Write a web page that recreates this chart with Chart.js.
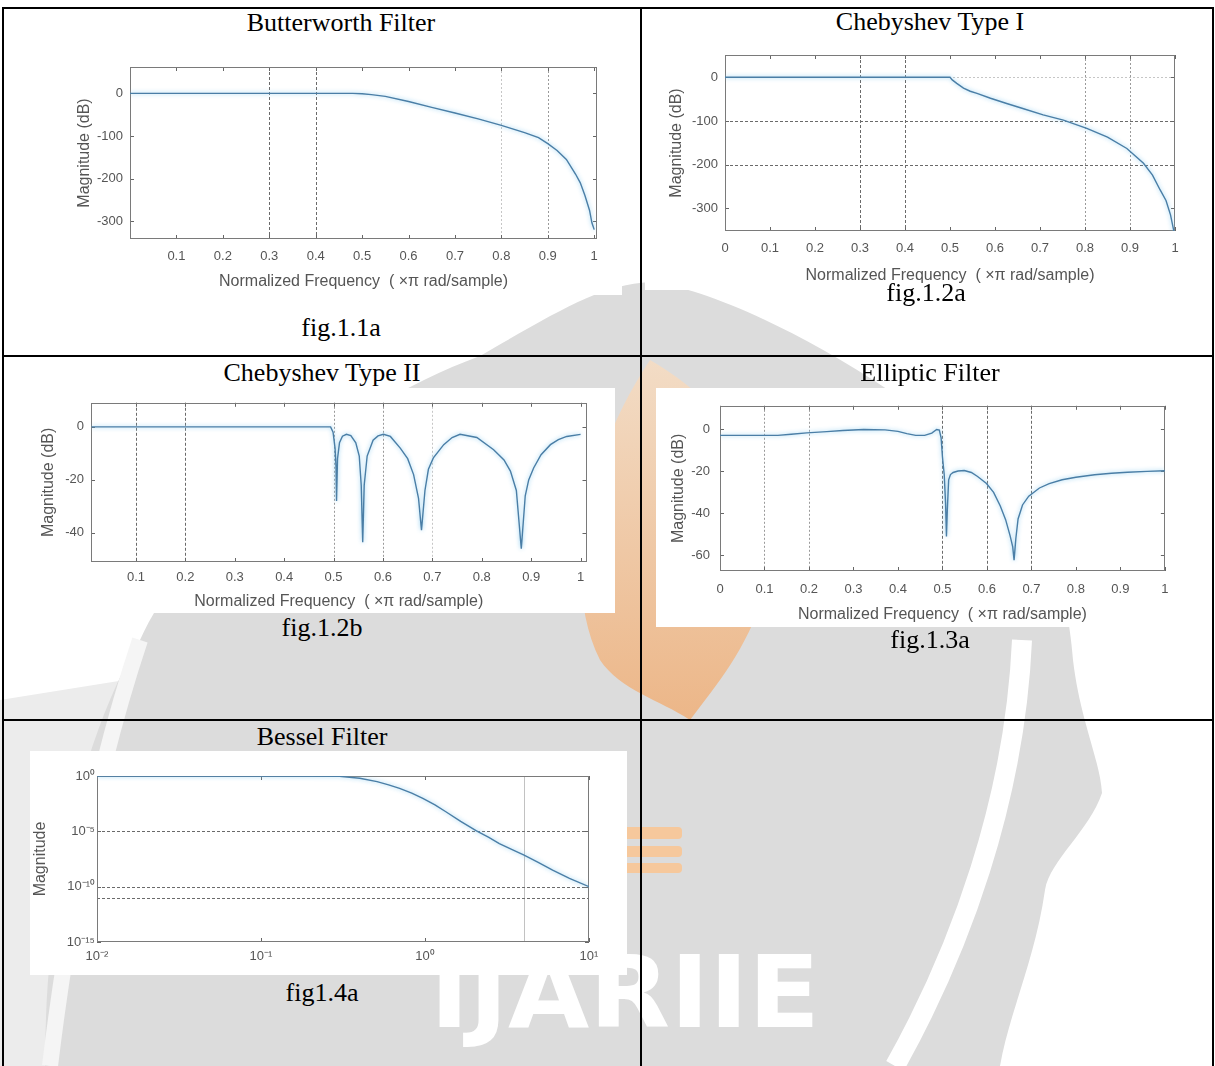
<!DOCTYPE html>
<html>
<head>
<meta charset="utf-8">
<script src="https://cdn.jsdelivr.net/npm/chart.js@4"></script>
<style>
html, body { margin: 0; padding: 0; background: #fff; }
body { width: 1215px; height: 1066px; position: relative; overflow: hidden; font-family: 'Liberation Serif', 'Times New Roman', serif; }
#mark { position: absolute; left: 0; top: 0; }
.rule { position: absolute; background: #000; }
.cap { position: absolute; font-size: 26px; line-height: 26px; white-space: nowrap; transform: translateX(-50%); color: #000; }
.fig { position: absolute; background: #fff; }
.fig canvas { display: block; }
</style>
</head>
<body>

<svg id="mark" width="1215" height="1066" viewBox="0 0 1215 1066">
  <defs>
    <linearGradient id="flame" x1="0" y1="0" x2="0" y2="1">
      <stop offset="0" stop-color="#fcdcbc"/>
      <stop offset="1" stop-color="#f3a664"/>
    </linearGradient>
  </defs>
  <path d="M0 700 L125 680 C90 800 65 920 50 1066 L0 1066 Z" fill="#ececec"/>
  <path d="M650 282 C730 290 900 380 1030 500 C1060 560 1070 620 1073 660 C1080 720 1100 760 1102 793 C1090 830 1050 860 1045 890 C1035 960 1010 1010 1000 1066 L45 1066 C45 900 80 740 140 640 C200 510 360 400 480 356 C560 310 600 285 650 282 Z" fill="#dcdcdc"/>
  <path d="M1022 640 C1015 800 960 950 895 1066" stroke="#fff" stroke-width="20" fill="none"/>
  <path d="M140 640 C100 760 70 900 50 1066" stroke="#f5f5f5" stroke-width="16" fill="none"/>
  <path d="M650 360 C720 400 790 480 770 570 C755 640 720 680 690 720 C660 700 620 690 600 660 C570 600 580 520 600 460 C615 420 630 390 650 360 Z" fill="url(#flame)" opacity="0.7"/>
  <rect x="600" y="827" width="82" height="12" rx="4" fill="#f6c89c"/>
  <rect x="600" y="846" width="82" height="11" rx="4" fill="#f6c89c"/>
  <rect x="600" y="863" width="82" height="10" rx="4" fill="#f6c89c"/>
  <text x="430" y="1027" font-family="DejaVu Sans" font-weight="bold" font-size="100" fill="#fff" textLength="390" lengthAdjust="spacingAndGlyphs">IJARIIE</text>
</svg>

<div class="rule" style="left:2px;top:7px;width:1212px;height:2px"></div>
<div class="rule" style="left:2px;top:7px;width:2px;height:1059px"></div>
<div class="rule" style="left:1212px;top:7px;width:2px;height:1059px"></div>
<div class="rule" style="left:640px;top:7px;width:2px;height:1059px"></div>
<div class="rule" style="left:2px;top:355px;width:1212px;height:2px"></div>
<div class="rule" style="left:2px;top:719px;width:1212px;height:2px"></div>

<div class="fig" style="left:5px;top:40px;width:617px;height:255px"><canvas id="butter" width="617" height="255"></canvas></div>
<div class="fig" style="left:645px;top:40px;width:566px;height:250px"><canvas id="cheby1" width="566" height="250"></canvas></div>
<div class="fig" style="left:5px;top:388px;width:610px;height:225px"><canvas id="cheby2" width="610" height="225"></canvas></div>
<div class="fig" style="left:656px;top:388px;width:523px;height:239px"><canvas id="ellip" width="523" height="239"></canvas></div>
<div class="fig" style="left:30px;top:751px;width:597px;height:224px"><canvas id="bessel" width="597" height="224"></canvas></div>

<div class="cap" style="left:341px;top:10px">Butterworth Filter</div>
<div class="cap" style="left:930px;top:9px">Chebyshev Type I</div>
<div class="cap" style="left:341px;top:315px">fig.1.1a</div>
<div class="cap" style="left:926px;top:280px">fig.1.2a</div>
<div class="cap" style="left:322px;top:360px">Chebyshev Type II</div>
<div class="cap" style="left:930px;top:360px">Elliptic Filter</div>
<div class="cap" style="left:322px;top:615px">fig.1.2b</div>
<div class="cap" style="left:930px;top:627px">fig.1.3a</div>
<div class="cap" style="left:322px;top:724px">Bessel Filter</div>
<div class="cap" style="left:322px;top:980px">fig1.4a</div>

<script>
// values (normalized frequency vs magnitude)
const butterFreq = [0, 0.1, 0.2, 0.3, 0.4, 0.45, 0.48, 0.5, 0.52, 0.55, 0.6, 0.65, 0.7, 0.75, 0.8, 0.85, 0.88, 0.9, 0.92, 0.94, 0.96, 0.97, 0.98, 0.99, 0.995, 1.0];
const butterMag = [0, 0, 0, 0, 0, 0, 0, -1, -3, -7, -19, -33, -46, -60, -75, -92, -104, -118, -134, -155, -190, -210, -240, -275, -304, -320];

const cheby1Freq = [0, 0.1, 0.2, 0.3, 0.4, 0.49, 0.5, 0.505, 0.515, 0.53, 0.545, 0.56, 0.59, 0.626, 0.66, 0.707, 0.752, 0.804, 0.85, 0.893, 0.93, 0.95, 0.967, 0.98, 0.99, 0.997, 1.0];
const cheby1Mag = [0, 0, 0, 0, 0, 0, 0, -6, -14, -25, -32, -37, -48, -60, -71, -86, -98, -117, -137, -163, -197, -224, -258, -282, -315, -350, -360];

const cheby2Freq = [0.01, 0.1, 0.2, 0.3, 0.4, 0.494, 0.499, 0.503, 0.505, 0.506, 0.508, 0.512, 0.518, 0.526, 0.535, 0.545, 0.552, 0.556, 0.559, 0.562, 0.568, 0.58, 0.59, 0.601, 0.615, 0.635, 0.65, 0.662, 0.672, 0.678, 0.685, 0.692, 0.702, 0.723, 0.74, 0.756, 0.79, 0.824, 0.845, 0.858, 0.87, 0.88, 0.888, 0.895, 0.905, 0.92, 0.939, 0.955, 0.972, 1.0];
const cheby2Mag = [0, 0, 0, 0, 0, 0, -2, -8, -15, -28, -12, -6, -3.5, -2.8, -3.3, -6, -11, -22, -43.5, -22, -11, -5, -3.4, -2.8, -3.6, -8, -12, -18, -27, -39, -24, -16, -11.7, -6.7, -4, -2.8, -4, -8.6, -12.5, -16.7, -24, -46, -26, -20, -15.5, -10.5, -6.7, -4.8, -3.6, -2.8];

const ellipFreq = [0, 0.05, 0.1, 0.13, 0.16, 0.195, 0.24, 0.276, 0.323, 0.371, 0.4, 0.42, 0.44, 0.46, 0.476, 0.487, 0.493, 0.497, 0.5, 0.504, 0.507, 0.509, 0.511, 0.514, 0.518, 0.524, 0.535, 0.549, 0.565, 0.579, 0.599, 0.615, 0.63, 0.642, 0.652, 0.658, 0.661, 0.665, 0.67, 0.68, 0.694, 0.718, 0.74, 0.769, 0.8, 0.842, 0.88, 0.916, 0.96, 1.0];
const ellipMag = [-2.8, -2.8, -2.8, -2.8, -2.3, -1.6, -1.0, -0.5, 0, -0.2, -0.9, -2.0, -2.8, -2.8, -1.7, 0, -0.3, -4, -13, -21.6, -35, -51, -38, -24, -21.5, -20.5, -19.8, -19.6, -20.5, -22.4, -25.8, -30, -36.5, -43, -50.6, -56, -62.3, -52, -42.7, -36, -31.8, -27.9, -25.8, -24, -22.8, -21.6, -20.9, -20.4, -20.0, -19.7];

const besselFreq = [0.01, 0.03, 0.1, 0.2, 0.3, 0.4, 0.51, 0.6, 0.7, 0.83, 0.97, 1.15, 1.34, 1.65, 2.06, 2.45, 2.84, 3.4, 4.02, 4.9, 6.0, 7.6, 10];
const besselMag = [1, 1, 1, 1, 0.93, 0.63, 0.31, 0.16, 7.6e-2, 2.8e-2, 9.5e-3, 2.5e-3, 5.9e-4, 7.9e-5, 1.1e-5, 2.8e-6, 7.9e-7, 2.2e-7, 7.1e-8, 1.6e-8, 3.2e-9, 5.6e-10, 1.0e-10];

// tick values
const freqTicks = [0, 0.1, 0.2, 0.3, 0.4, 0.5, 0.6, 0.7, 0.8, 0.9, 1];
const freqTicksNoZero = [0.1, 0.2, 0.3, 0.4, 0.5, 0.6, 0.7, 0.8, 0.9, 1];
const butterDbTicks = [-300, -200, -100, 0];
const cheby1DbTicks = [-300, -200, -100, 0];
const cheby2DbTicks = [-40, -20, 0];
const ellipDbTicks = [-60, -40, -20, 0];
const besselFreqTicks = [0.01, 0.1, 1, 10];
const besselMagTicks = [1e-15, 1e-10, 1e-5, 1];

const FREQ_TITLE = 'Normalized Frequency  ( \u00d7\u03c0 rad/sample)';
const TEXT = '#555';
const LINE = '#4a7ea6';

const GRID = {
    dark: { c: '#6a6a6a', d: [3, 2] },
    mid: { c: '#9a9a9a', d: [2, 2] },
    light: { c: '#c6c6c6', d: [2, 2] },
    solid: { c: '#c2c2c2', d: [] }
};

const SUP = { '-': '\u207b', '0': '\u2070', '1': '\u00b9', '2': '\u00b2', '3': '\u00b3', '4': '\u2074', '5': '\u2075', '6': '\u2076', '7': '\u2077', '8': '\u2078', '9': '\u2079' };
function powLabel(v) {
    const e = String(Math.round(Math.log10(v)));
    return '10' + e.split('').map(ch => SUP[ch]).join('');
}
function numLabel(v) {
    return String(+v.toFixed(2));
}

// matlab-ish axes box, dashed grid and inward ticks
const frame = {
    id: 'frame',
    beforeDatasetsDraw(chart, args, opts) {
        const { ctx, chartArea: a, scales: { x, y } } = chart;
        ctx.save();
        ctx.lineWidth = 1;
        (opts.vgrid || []).forEach(g => {
            const px = Math.round(x.getPixelForValue(g.v)) + 0.5;
            ctx.strokeStyle = GRID[g.s].c;
            ctx.setLineDash(GRID[g.s].d);
            ctx.beginPath(); ctx.moveTo(px, a.top); ctx.lineTo(px, a.bottom); ctx.stroke();
        });
        (opts.hgrid || []).forEach(g => {
            const py = Math.round(y.getPixelForValue(g.v)) + 0.5;
            ctx.strokeStyle = GRID[g.s].c;
            ctx.setLineDash(GRID[g.s].d);
            ctx.beginPath(); ctx.moveTo(a.left, py); ctx.lineTo(a.right, py); ctx.stroke();
        });
        ctx.setLineDash([]);
        ctx.strokeStyle = '#666';
        x.ticks.forEach(t => {
            const px = Math.round(x.getPixelForValue(t.value)) + 0.5;
            ctx.beginPath();
            ctx.moveTo(px, a.bottom); ctx.lineTo(px, a.bottom - 4);
            ctx.moveTo(px, a.top); ctx.lineTo(px, a.top + 4);
            ctx.stroke();
        });
        y.ticks.forEach(t => {
            const py = Math.round(y.getPixelForValue(t.value)) + 0.5;
            ctx.beginPath();
            ctx.moveTo(a.left, py); ctx.lineTo(a.left + 4, py);
            ctx.moveTo(a.right, py); ctx.lineTo(a.right - 4, py);
            ctx.stroke();
        });
        ctx.strokeStyle = '#7a7a7a';
        ctx.strokeRect(Math.round(a.left) + 0.5, Math.round(a.top) + 0.5, Math.round(a.width) - 1, Math.round(a.height) - 1);
        ctx.restore();
    }
};

// soft light-blue halo round the response curve
const glow = {
    id: 'glow',
    beforeDatasetsDraw(chart) {
        const c = chart.ctx;
        c.save();
        c.shadowColor = 'rgba(125, 198, 238, 0.9)';
        c.shadowBlur = 4;
    },
    afterDatasetsDraw(chart) {
        chart.ctx.restore();
    }
};

function makeChart(id, cfg) {
    const font = { family: "'Liberation Sans', Arial, sans-serif", size: 13 };
    const titleFont = { family: "'Liberation Sans', Arial, sans-serif", size: 16 };
    return new Chart(document.getElementById(id), {
        type: 'scatter',
        data: {
            datasets: [{
                data: cfg.freq.map((f, i) => ({ x: f, y: cfg.mag[i] })),
                showLine: true,
                borderColor: LINE,
                borderWidth: 1.4,
                pointRadius: 0,
                tension: 0
            }]
        },
        options: {
            responsive: false,
            animation: false,
            events: [],
            layout: { padding: { left: 0, right: cfg.padRight, top: cfg.padTop, bottom: 0 } },
            plugins: {
                legend: { display: false },
                tooltip: { enabled: false },
                frame: { vgrid: cfg.vgrid, hgrid: cfg.hgrid }
            },
            scales: {
                x: {
                    type: cfg.log ? 'logarithmic' : 'linear',
                    min: cfg.xMin, max: cfg.xMax,
                    grid: { display: false, drawTicks: false },
                    border: { display: false },
                    afterBuildTicks: s => { s.ticks = cfg.xTicks.map(v => ({ value: v })); },
                    afterFit: s => { s.height = cfg.xH; },
                    ticks: { autoSkip: false, maxRotation: 0, padding: cfg.xPad, color: TEXT, font: font,
                        callback: v => cfg.log ? powLabel(v) : numLabel(v) },
                    title: { display: !!cfg.xTitle, text: cfg.xTitle, color: TEXT, font: titleFont,
                        padding: { top: 0, bottom: cfg.xTitlePad } }
                },
                y: {
                    type: cfg.log ? 'logarithmic' : 'linear',
                    min: cfg.yMin, max: cfg.yMax,
                    grid: { display: false, drawTicks: false },
                    border: { display: false },
                    afterBuildTicks: s => { s.ticks = cfg.yTicks.map(v => ({ value: v })); },
                    afterFit: s => { s.width = cfg.yW; },
                    ticks: { autoSkip: false, padding: cfg.yPad, color: TEXT, font: font,
                        callback: v => cfg.log ? powLabel(v) : numLabel(v) },
                    title: { display: true, text: cfg.yTitle, color: TEXT, font: titleFont,
                        padding: { top: cfg.yTitlePad, bottom: 0 } }
                }
            }
        },
        plugins: [frame, glow]
    });
}

makeChart('butter', {
    freq: butterFreq, mag: butterMag,
    xMin: 0, xMax: 1.006, yMin: -342, yMax: 62,
    xTicks: freqTicksNoZero, yTicks: butterDbTicks,
    padRight: 25, padTop: 27, yW: 125, xH: 56,
    xPad: 10, yPad: 7, yTitlePad: 70, xTitlePad: 4,
    xTitle: FREQ_TITLE, yTitle: 'Magnitude (dB)',
    vgrid: [{ v: 0.3, s: 'dark' }, { v: 0.4, s: 'dark' }, { v: 0.8, s: 'light' }, { v: 0.9, s: 'mid' }]
});

makeChart('cheby1', {
    freq: cheby1Freq, mag: cheby1Mag,
    xMin: 0, xMax: 1, yMin: -352, yMax: 51,
    xTicks: freqTicks, yTicks: cheby1DbTicks,
    padRight: 36, padTop: 15, yW: 80, xH: 59,
    xPad: 9.5, yPad: 7, yTitlePad: 22, xTitlePad: 4.4,
    xTitle: FREQ_TITLE, yTitle: 'Magnitude (dB)',
    vgrid: [{ v: 0.3, s: 'dark' }, { v: 0.4, s: 'dark' }, { v: 0.8, s: 'mid' }, { v: 0.9, s: 'mid' }],
    hgrid: [{ v: 0, s: 'light' }, { v: -100, s: 'dark' }, { v: -200, s: 'dark' }]
});

makeChart('cheby2', {
    freq: cheby2Freq, mag: cheby2Mag,
    xMin: 0.009, xMax: 1.012, yMin: -51, yMax: 9.1,
    xTicks: freqTicksNoZero, yTicks: cheby2DbTicks,
    padRight: 28.5, padTop: 13, yW: 86, xH: 51,
    xPad: 7.5, yPad: 7, yTitlePad: 33.6, xTitlePad: 1.7,
    xTitle: FREQ_TITLE, yTitle: 'Magnitude (dB)',
    vgrid: [{ v: 0.1, s: 'dark' }, { v: 0.2, s: 'dark' }, { v: 0.5, s: 'mid' }, { v: 0.6, s: 'mid' }, { v: 0.7, s: 'light' }]
});

makeChart('ellip', {
    freq: ellipFreq, mag: ellipMag,
    xMin: 0, xMax: 1, yMin: -67.5, yMax: 11.3,
    xTicks: freqTicks, yTicks: ellipDbTicks,
    padRight: 4, padTop: 15.3, yW: 64, xH: 56,
    xPad: 10.5, yPad: 10, yTitlePad: 12.9, xTitlePad: 2.4,
    xTitle: FREQ_TITLE, yTitle: 'Magnitude (dB)',
    vgrid: [{ v: 0.1, s: 'mid' }, { v: 0.2, s: 'mid' }, { v: 0.5, s: 'dark' }, { v: 0.6, s: 'dark' }, { v: 0.7, s: 'dark' }]
});

makeChart('bessel', {
    log: true,
    freq: besselFreq, mag: besselMag,
    xMin: 0.01, xMax: 10, yMin: 1e-15, yMax: 1,
    xTicks: besselFreqTicks, yTicks: besselMagTicks,
    padRight: 38, padTop: 25, yW: 67, xH: 33,
    xPad: 7, yPad: 2, yTitlePad: 1.2, xTitlePad: 0,
    xTitle: '', yTitle: 'Magnitude',
    vgrid: [{ v: 4, s: 'solid' }],
    hgrid: [{ v: 1e-5, s: 'dark' }, { v: 1e-10, s: 'dark' }, { v: 1e-11, s: 'dark' }]
});
</script>
</body>
</html>
